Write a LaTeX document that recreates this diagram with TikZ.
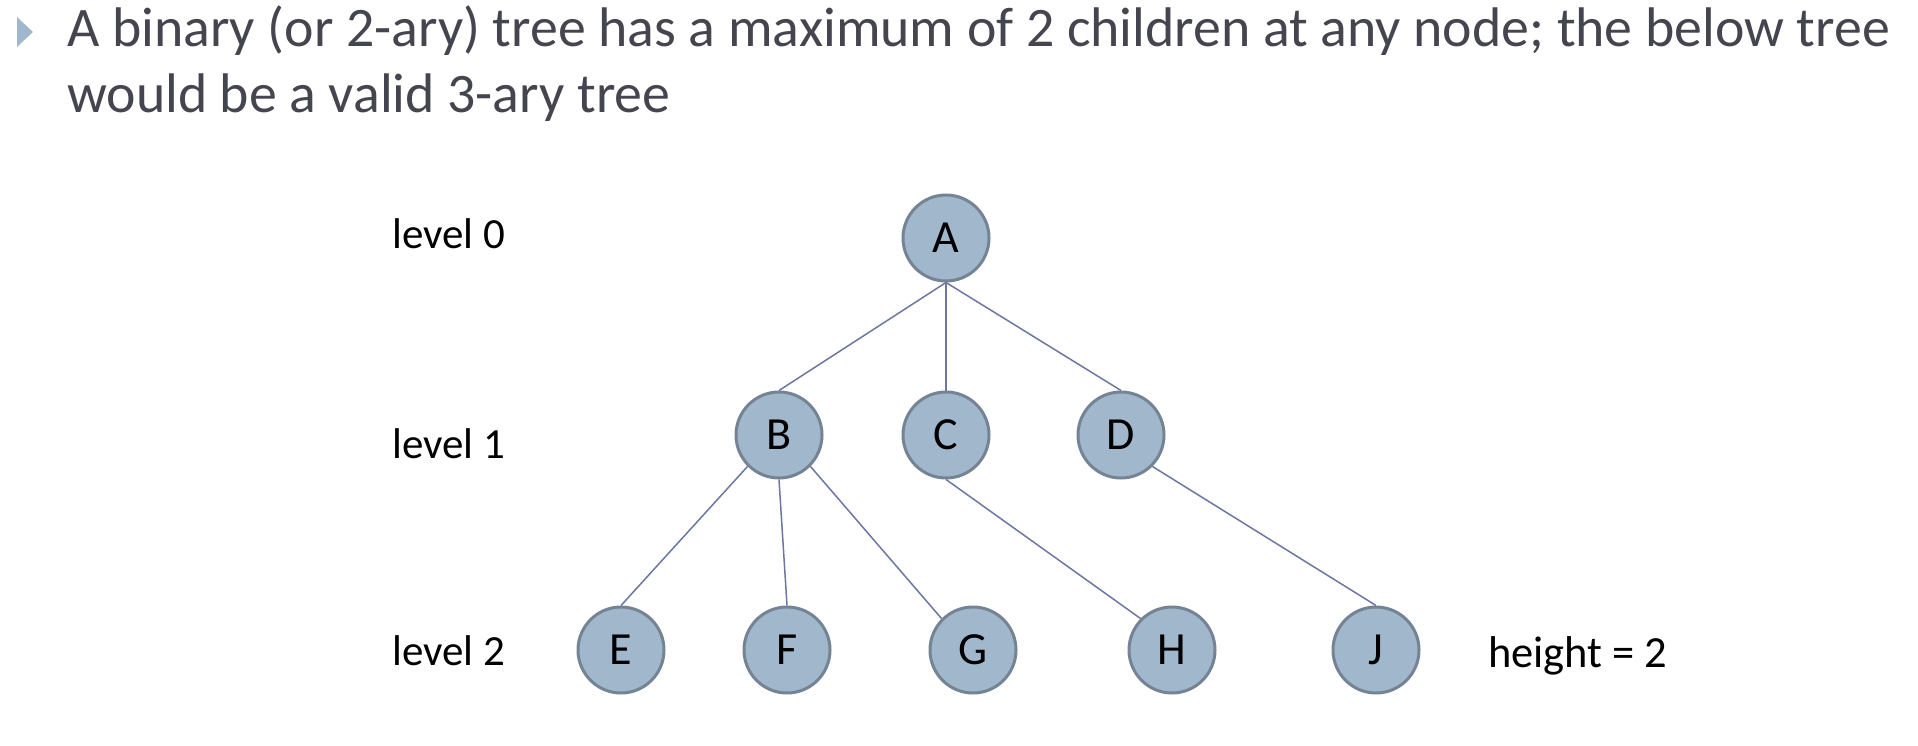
\documentclass[tikz,border=0pt]{standalone}
\usepackage{fontspec}
\setmainfont{Carlito}
\usepackage{xcolor}
\usepackage{tikz}
\definecolor{vfill}{HTML}{A1B7CC}
\definecolor{vline}{HTML}{748494}
\definecolor{ecol}{HTML}{6C76A0}
\definecolor{tcol}{HTML}{45454F}
\definecolor{bcol}{HTML}{A0B8CE}

\begin{document}
\begin{tikzpicture}[x=1pt,y=1pt,
	vertex/.style={circle,draw=vline,line width=3pt,fill=vfill,minimum size=86pt,inner sep=0pt,font=\fontsize{46}{46}\selectfont},
	lvl/.style={anchor=base west,inner sep=0pt,font=\fontsize{43}{43}\selectfont},
	edge/.style={draw=ecol,line width=1.5pt}]
	\useasboundingbox (0,0) rectangle (1918,-746);
	% bullet and heading
	\fill[bcol] (17,-17) -- (33,-32) -- (17,-47) -- cycle;
	\node[anchor=base west,inner sep=0pt,text=tcol,font=\fontsize{55.8}{56}\selectfont] (line1) at (67,-47) {A binary (or 2-ary) tree has a maximum of 2 children at any node; the below tree};
	\node[anchor=base west,inner sep=0pt,text=tcol,font=\fontsize{55.8}{56}\selectfont] (line2) at (67,-113) {would be a valid 3-ary tree};
	% levels
	\node[lvl] (l0) at (392,-248) {level 0};
	\node[lvl] (l1) at (392,-458) {level 1};
	\node[lvl] (l2) at (392,-665) {level 2};
	\node[lvl,font=\fontsize{44.5}{45}\selectfont] (ht) at (1488,-667) {height = 2};
	% the tree
	\node[vertex] (A) at (946,-238) {A};
	\node[vertex] (C) [below of=A,node distance=197pt] {C};
	\node[vertex] (B) [left of=C,node distance=167pt] {B};
	\node[vertex] (D) [right of=C,node distance=175pt] {D};
	\node[vertex] (E) at (621,-650) {E};
	\node[vertex] (F) [right of=E,node distance=166pt] {F};
	\node[vertex] (G) [right of=F,node distance=186pt] {G};
	\node[vertex] (H) [right of=G,node distance=199pt] {H};
	\node[vertex] (J) [right of=H,node distance=204pt] {J};
	\draw[edge] (A.south) -- (B.north);
	\draw[edge] (A.south) -- (C.north);
	\draw[edge] (A.south) -- (D.north);
	\draw[edge] (B.south west) -- (E.north);
	\draw[edge] (B.south) -- (F.north);
	\draw[edge] (B.south east) -- (G.north west);
	\draw[edge] (C.south) -- (H.north west);
	\draw[edge] (D.south east) -- (J.north);
\end{tikzpicture}
\end{document}
